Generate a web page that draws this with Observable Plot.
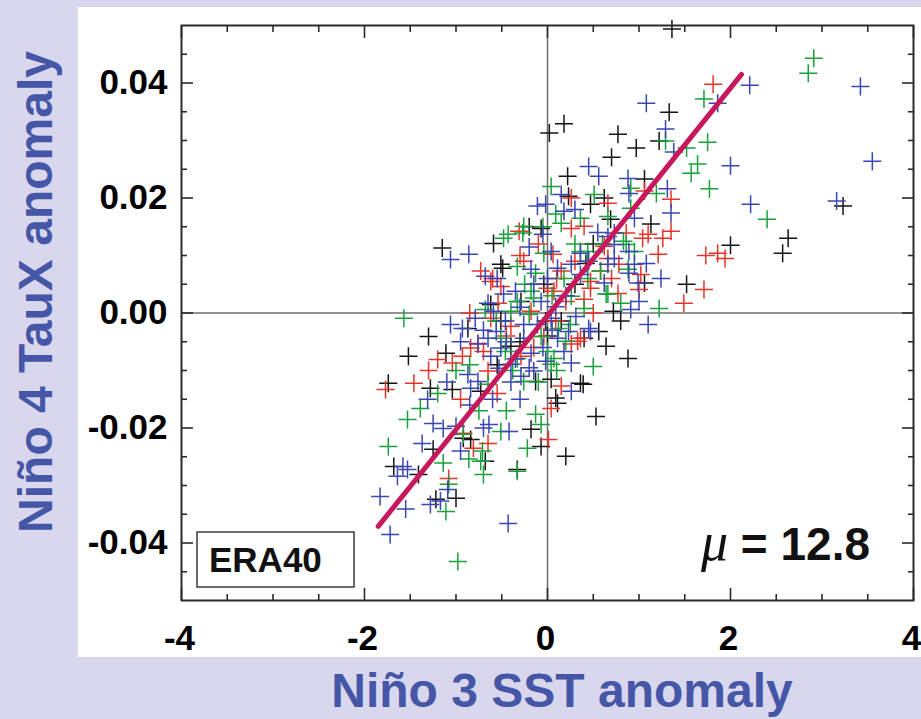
<!DOCTYPE html>
<html>
<head>
<meta charset="utf-8">
<script src="https://cdn.jsdelivr.net/npm/d3@7"></script>
<script src="https://cdn.jsdelivr.net/npm/@observablehq/plot@0.6"></script>
<style>
  html, body { margin: 0; padding: 0; background: #d8d7ee; }
  #wrap { position: relative; width: 921px; height: 719px; background: #d8d7ee; overflow: hidden;
          font-family: "Liberation Sans", Arial, Helvetica, sans-serif; }
  #panel { position: absolute; left: 78px; top: 7px; width: 843px; height: 650px; background: #fff; }
  #panel svg { display: block; }
  .title { position: absolute; white-space: nowrap; font-weight: bold; font-size: 48px; line-height: 1; color: #4656a6; }
  #ytitle { left: 36px; top: 292px; transform: translate(-50%, -50%) rotate(-90deg); }
  #xtitle { left: 562px; top: 667px; transform: translateX(-50%); }
</style>
</head>
<body>
<div id="wrap">
  <div id="panel"></div>
  <div id="ytitle" class="title"></div>
  <div id="xtitle" class="title"></div>
</div>
<script>
// ---------- data ----------
const xTitle = "Niño 3 SST anomaly";
const yTitle = "Niño 4 TauX anomaly";
const datasetLabel = "ERA40";
const muLabel = "12.8";

const xDomain = [-4, 4];
const yDomain = [-0.05, 0.05];
const xMajor = [-4, -2, 0, 2, 4];
const xMinor = [-3.5, -3, -2.5, -1.5, -1, -0.5, 0.5, 1, 1.5, 2.5, 3, 3.5];
const yMajor = [-0.04, -0.02, 0, 0.02, 0.04];
const yMinor = [-0.045, -0.035, -0.03, -0.025, -0.015, -0.01, -0.005, 0.005, 0.01, 0.015, 0.025, 0.03, 0.035, 0.045];

// regression line end points
const fitX = [-1.85, 2.12];
const fitY = [-0.0371, 0.0415];

const blackPts = [[1.36,0.0494],[1.33,0.0349],[0.77,0.0311],[0.97,0.0287],[0.70,0.0271],[1.22,0.0299],[0.18,0.0329],[0.02,0.0313],[3.23,0.0186],[2.63,0.0130],[2.57,0.0104],[2.00,0.0118],[0.22,0.0238],[1.06,0.0233],[0.62,0.0200],[0.69,0.0163],[1.13,0.0155],[1.52,0.0050],[0.88,-0.0079],[0.36,-0.0122],[1.06,0.0052],[0.72,0.0003],[0.56,-0.0032],[0.40,-0.0044],[-1.15,0.0113],[-0.59,0.0121],[-0.51,0.0085],[-1.30,-0.0041],[-1.52,-0.0075],[-0.87,-0.0027],[-1.11,-0.0070],[-1.74,-0.0122],[-1.28,-0.0131],[-1.68,-0.0267],[-1.41,-0.0281],[-1.22,-0.0324],[-1.00,-0.0322],[-0.68,-0.0258],[-0.33,-0.0272],[-0.18,-0.0202],[-0.07,-0.0232],[0.11,-0.0157],[0.20,-0.0249],[0.53,-0.0180],[0.04,-0.0115],[0.09,-0.0148],[0.39,-0.0124],[-1.25,-0.0237],[-0.92,-0.0218],[-0.07,0.0147],[0.23,0.0203],[0.47,0.0189],[-0.49,0.0078],[-0.04,0.0050],[-0.62,0.0015],[-1.04,-0.0133],[-0.84,-0.0220],[-0.29,0.0020],[0.15,-0.0014],[-0.40,-0.0058],[-0.13,-0.0119],[-0.73,-0.0136],[0.64,-0.0058],[0.80,-0.0014],[0.42,0.0086],[-0.51,-0.0014],[-0.02,-0.0014],[-0.30,-0.0050],[0.00,-0.0040],[-0.55,-0.0090],[0.30,0.0050],[0.50,0.0120],[-0.20,0.0150]];

const redPts = [[1.81,0.0398],[0.26,0.0200],[1.35,0.0198],[0.66,0.0191],[1.73,0.0100],[1.86,0.0104],[1.94,0.0095],[1.71,0.0041],[1.49,0.0017],[1.10,0.0137],[1.26,0.0130],[1.21,0.0102],[1.00,0.0041],[0.77,0.0034],[0.78,0.0085],[0.47,0.0055],[0.33,-0.0049],[0.66,0.0095],[0.15,0.0073],[0.40,0.0024],[-0.73,0.0073],[-0.62,0.0055],[-0.26,0.0090],[-1.20,-0.0081],[-1.04,-0.0087],[-1.46,-0.0122],[-1.77,-0.0133],[-0.84,-0.0061],[-0.76,-0.0053],[-1.08,-0.0288],[-0.92,-0.0209],[-0.65,-0.0227],[0.01,-0.0220],[0.04,-0.0166],[1.06,0.0212],[0.40,0.0151],[0.26,0.0147],[-0.31,0.0142],[0.86,0.0139],[1.04,0.0130],[-0.60,0.0060],[0.06,0.0102],[0.00,0.0043],[0.07,0.0038],[0.47,0.0043],[0.62,0.0116],[1.02,0.0067],[-0.62,-0.0009],[-0.93,-0.0075],[-0.70,-0.0067],[-0.54,0.0017],[-0.04,-0.0041],[-0.65,-0.0101],[0.36,-0.0044],[0.26,-0.0054],[-0.81,-0.0235],[1.35,0.0142],[0.58,0.0073],[0.15,-0.0127],[-0.40,-0.0023],[-0.18,0.0003],[0.09,-0.0014],[-0.51,0.0046],[-0.29,-0.0075],[0.20,0.0020],[-0.85,0.0000],[-0.45,-0.0040],[-0.15,-0.0060],[0.10,0.0060],[0.30,0.0090],[-0.30,0.0100],[-0.95,-0.0150],[-0.55,-0.0140],[0.50,0.0000],[0.70,0.0060],[-0.10,0.0120],[-1.30,-0.0100]];

const greenPts = [[2.91,0.0443],[2.85,0.0417],[1.71,0.0372],[1.29,0.0299],[1.52,0.0287],[1.75,0.0297],[1.64,0.0259],[1.57,0.0243],[1.77,0.0216],[2.40,0.0163],[0.04,0.0220],[0.51,0.0206],[0.91,0.0217],[1.19,0.0208],[0.91,0.0182],[0.50,-0.0093],[1.22,0.0008],[0.80,0.0017],[0.64,0.0033],[0.40,0.0008],[0.07,-0.0079],[0.83,0.0125],[0.44,0.0107],[0.44,0.0060],[0.95,0.0107],[-0.43,0.0137],[-0.26,0.0151],[-1.57,-0.0009],[-1.53,-0.0185],[-1.74,-0.0232],[-1.39,-0.0166],[-1.11,-0.0345],[-1.14,-0.0261],[-0.86,-0.0254],[-0.73,-0.0258],[-0.70,-0.0281],[-0.71,-0.0240],[-0.33,-0.0275],[-0.98,-0.0432],[-0.92,-0.0211],[-0.51,-0.0206],[-0.07,-0.0194],[-0.22,-0.0235],[-0.13,-0.0176],[-1.08,-0.0298],[0.09,0.0172],[0.15,0.0156],[-0.27,0.0139],[0.36,0.0165],[0.66,0.0168],[0.86,0.0119],[-0.48,0.0130],[-0.33,0.0081],[-0.04,0.0104],[-0.13,0.0069],[0.18,0.0060],[0.36,0.0107],[0.58,0.0073],[0.88,0.0076],[0.66,0.0033],[-0.68,0.0006],[-0.40,0.0003],[-0.33,0.0020],[-0.15,0.0026],[-0.20,-0.0002],[-0.51,-0.0044],[0.00,-0.0067],[-0.33,-0.0079],[-0.65,-0.0124],[-0.26,-0.0119],[0.04,-0.0089],[0.12,-0.0027],[-0.56,-0.0014],[-0.07,-0.0041],[0.20,-0.0049],[-0.46,-0.0067],[-0.18,0.0038],[0.26,0.0029],[-0.85,-0.0090],[-0.38,-0.0100],[-0.10,-0.0120],[0.10,-0.0100],[-0.25,0.0050],[0.05,0.0030],[-0.75,-0.0170],[-0.45,-0.0170],[-1.20,-0.0140],[0.30,0.0120],[0.60,0.0120],[-0.05,0.0150],[-1.00,-0.0100],[0.25,-0.0020]];

const bluePts = [[3.42,0.0394],[2.21,0.0396],[1.86,0.0365],[1.08,0.0365],[1.29,0.0320],[1.38,0.0280],[2.00,0.0256],[3.55,0.0264],[2.22,0.0189],[3.16,0.0195],[0.45,0.0255],[0.56,0.0238],[0.15,0.0206],[0.88,0.0234],[0.89,0.0208],[1.31,0.0216],[1.35,0.0174],[0.95,0.0165],[1.24,0.0060],[1.08,0.0086],[1.10,-0.0020],[1.00,0.0020],[0.91,0.0006],[0.89,0.0069],[0.66,0.0085],[0.45,-0.0027],[0.23,-0.0032],[0.26,-0.0087],[0.89,0.0107],[0.73,0.0119],[0.66,0.0133],[0.36,0.0104],[-1.06,0.0093],[-0.86,0.0102],[-0.68,0.0064],[-0.18,0.0076],[-1.06,-0.0020],[-0.93,-0.0027],[-0.79,-0.0009],[-0.65,0.0017],[-0.59,0.0003],[-0.87,-0.0107],[-1.37,-0.0227],[-1.25,-0.0192],[-1.31,-0.0150],[-1.58,-0.0267],[-1.64,-0.0284],[-1.53,-0.0272],[-1.83,-0.0319],[-1.55,-0.0341],[-1.72,-0.0385],[-1.28,-0.0333],[-1.17,-0.0327],[-1.09,-0.0307],[-0.43,-0.0366],[-1.14,-0.0201],[-1.00,-0.0197],[-0.64,-0.0194],[-0.42,-0.0206],[0.26,-0.0136],[-0.11,0.0186],[-0.02,0.0189],[0.18,0.0177],[-0.05,0.0137],[0.73,0.0139],[0.04,0.0107],[0.11,0.0078],[0.26,0.0085],[0.36,0.0067],[0.73,0.0095],[0.95,0.0085],[0.99,0.0052],[0.62,0.0052],[-0.65,-0.0044],[-0.76,-0.0054],[-0.51,-0.0061],[-0.48,0.0033],[-0.26,-0.0020],[-0.11,-0.0020],[0.04,-0.0009],[0.11,-0.0044],[0.18,-0.0067],[-0.26,-0.0044],[-0.18,-0.0070],[-0.40,-0.0089],[-0.53,-0.0096],[-0.76,-0.0119],[-0.15,-0.0101],[0.47,-0.0032],[-0.84,-0.0131],[-0.35,0.0038],[-0.07,0.0020],[-0.46,-0.0014],[-0.56,-0.0032],[-0.02,-0.0084],[-0.29,-0.0110],[-0.62,-0.0075],[0.09,0.0011],[0.31,-0.0006],[-0.95,-0.0050],[-0.70,-0.0030],[-0.45,-0.0050],[-0.35,-0.0080],[-0.20,-0.0095],[-0.05,-0.0060],[0.05,-0.0030],[-0.30,0.0010],[-0.15,0.0050],[0.00,0.0060],[-0.55,0.0060],[-0.40,-0.0120],[-0.60,-0.0150],[-0.30,-0.0150],[-0.85,-0.0160],[-1.10,-0.0120],[0.20,0.0030],[0.45,0.0090],[0.55,0.0140],[-0.20,0.0115],[0.30,0.0180],[-0.70,-0.0200],[-0.95,-0.0240]];

const seriesColors = { black: "#141414", red: "#e8332a", green: "#18a03c", blue: "#3a46b2" };
const series = [
  { name: "black", pts: blackPts },
  { name: "red", pts: redPts },
  { name: "green", pts: greenPts },
  { name: "blue", pts: bluePts }
];

// ---------- drawing ----------
document.getElementById("xtitle").textContent = xTitle;
document.getElementById("ytitle").textContent = yTitle;

const cross = {
  draw(context, size) {
    const r = Math.sqrt(size / Math.PI);
    context.moveTo(-r, 0); context.lineTo(r, 0);
    context.moveTo(0, -r); context.lineTo(0, r);
  }
};

const FONT = "Liberation Sans, Arial, Helvetica, sans-serif";
const blank = () => "";

function annotations(index, scales, values, dims) {
  const left = dims.marginLeft, right = dims.width - dims.marginRight, bottom = dims.height - dims.marginBottom;
  const g = d3.create("svg:g").attr("font-family", FONT);
  const bx = left + 16, by = bottom - 68;
  g.append("rect").attr("x", bx).attr("y", by).attr("width", 157).attr("height", 55)
    .attr("fill", "white").attr("stroke", "#3a3a3a").attr("stroke-width", 1.5);
  g.append("text").attr("x", bx + 12).attr("y", bottom - 28).attr("text-anchor", "start")
    .attr("font-size", 35).attr("font-weight", "bold").attr("fill", "#111").text(datasetLabel);
  const t = g.append("text").attr("x", right - 43).attr("y", bottom - 40)
    .attr("text-anchor", "end").attr("fill", "#111");
  t.append("tspan").attr("font-family", "Liberation Serif, DejaVu Serif, serif").attr("font-style", "italic")
    .attr("font-size", 54).text("μ");
  t.append("tspan").attr("font-size", 46).attr("font-weight", "bold").text(" = " + muLabel);
  return g.node();
}

const chart = Plot.plot({
  width: 843,
  height: 650,
  marginLeft: 103,
  marginRight: 8,
  marginTop: 18,
  marginBottom: 57,
  x: { domain: xDomain, label: null },
  y: { domain: yDomain, label: null },
  style: { background: "white", fontFamily: FONT, color: "#000", overflow: "visible" },
  marks: [
    Plot.ruleX([0], { stroke: "#6e6e6e", strokeWidth: 1.5 }),
    Plot.ruleY([0], { stroke: "#6e6e6e", strokeWidth: 1.5 }),
    ...series.map(s => Plot.dot(s.pts, {
      x: d => d[0], y: d => d[1], symbol: cross, r: 9,
      stroke: seriesColors[s.name], fill: "none", strokeWidth: 1.5
    })),
    Plot.line(fitX.map((x, i) => ({ x, y: fitY[i] })), { x: "x", y: "y", stroke: "#c8175a", strokeWidth: 5 }),
    Plot.frame({ stroke: "#2a2a2a", strokeWidth: 2 }),
    // labels
    Plot.axisX({ ticks: xMajor, anchor: "bottom", tickSize: 0, tickPadding: 25, dx: -2, tickFormat: d => String(d),
                 fontSize: 35, fontWeight: "bold", fill: "#000" }),
    Plot.axisY({ ticks: yMajor, anchor: "left", tickSize: 0, tickPadding: 14, tickFormat: d => d.toFixed(2),
                 fontSize: 35, fontWeight: "bold", fill: "#000" }),
    // inward ticks on all sides
    Plot.axisX({ ticks: xMajor, anchor: "bottom", tickSize: -12, tickFormat: blank, stroke: "#2a2a2a", strokeWidth: 1.6 }),
    Plot.axisX({ ticks: xMinor, anchor: "bottom", tickSize: -6, tickFormat: blank, stroke: "#2a2a2a", strokeWidth: 1.6 }),
    Plot.axisX({ ticks: xMajor, anchor: "top", tickSize: -12, tickFormat: blank, stroke: "#2a2a2a", strokeWidth: 1.6 }),
    Plot.axisX({ ticks: xMinor, anchor: "top", tickSize: -6, tickFormat: blank, stroke: "#2a2a2a", strokeWidth: 1.6 }),
    Plot.axisY({ ticks: yMajor, anchor: "left", tickSize: -12, tickFormat: blank, stroke: "#2a2a2a", strokeWidth: 1.6 }),
    Plot.axisY({ ticks: yMinor, anchor: "left", tickSize: -6, tickFormat: blank, stroke: "#2a2a2a", strokeWidth: 1.6 }),
    Plot.axisY({ ticks: yMajor, anchor: "right", tickSize: -12, tickFormat: blank, stroke: "#2a2a2a", strokeWidth: 1.6 }),
    Plot.axisY({ ticks: yMinor, anchor: "right", tickSize: -6, tickFormat: blank, stroke: "#2a2a2a", strokeWidth: 1.6 }),
    annotations
  ]
});

document.getElementById("panel").appendChild(chart);
</script>
</body>
</html>
